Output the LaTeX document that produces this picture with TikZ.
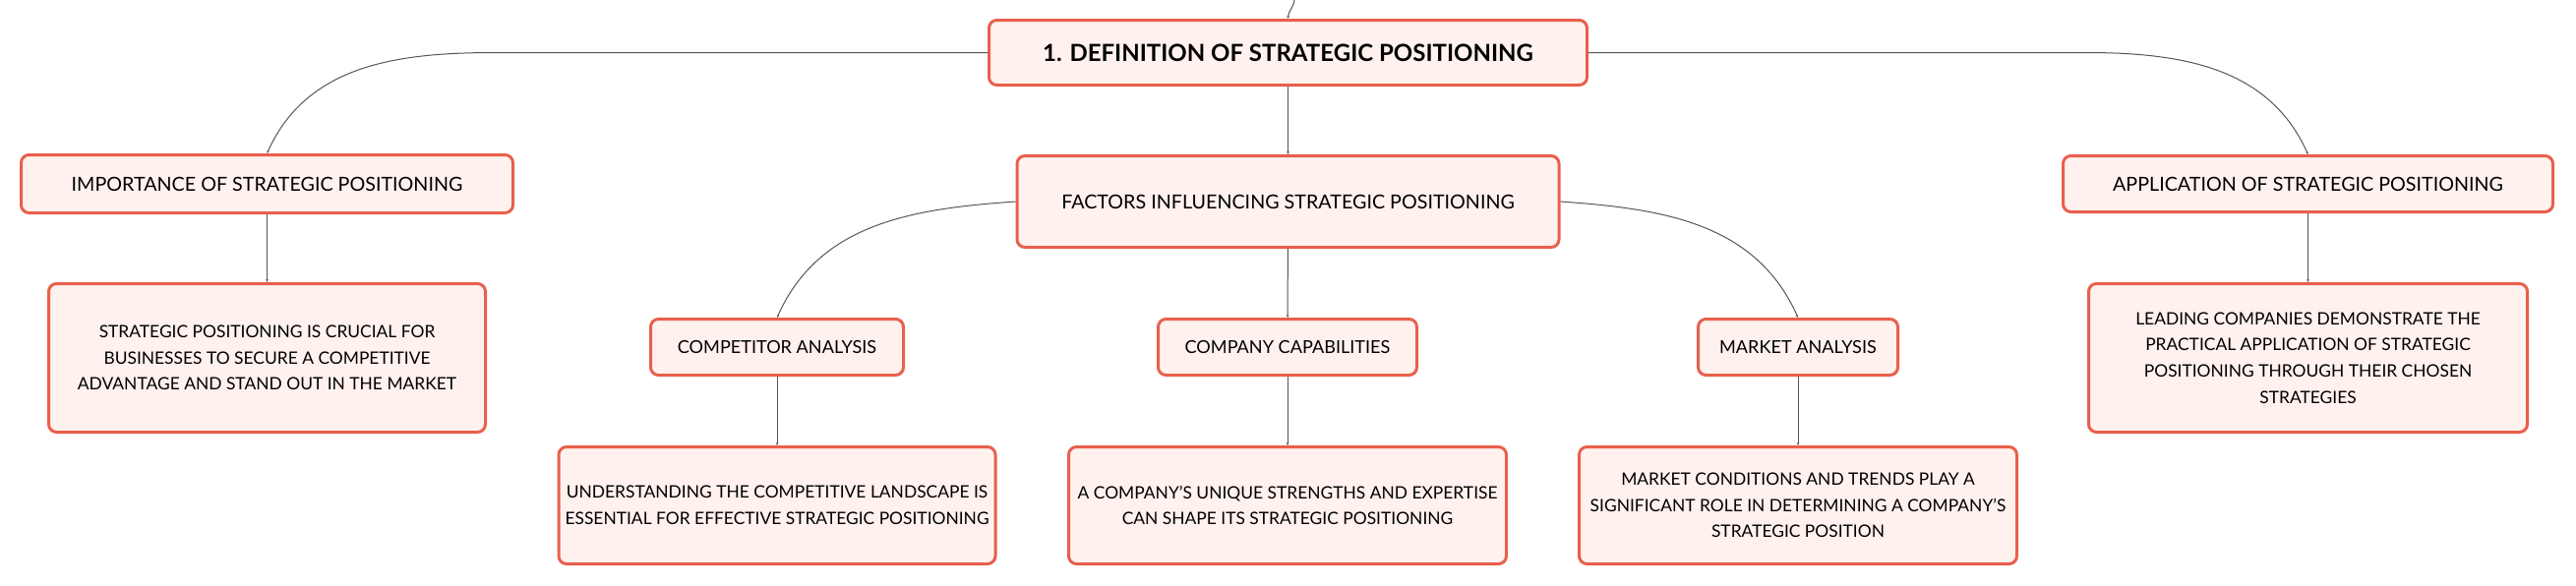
\documentclass[tikz,border=0pt]{standalone}
\usepackage{fontspec}
\setmainfont{Lato}
\usetikzlibrary{positioning,arrows.meta}
\definecolor{boxline}{HTML}{E8604C}
\definecolor{boxfill}{HTML}{FFF1EE}
\definecolor{linkgray}{HTML}{555555}
\tikzset{
  topic/.style={
    rectangle,
    rounded corners=8pt,
    minimum width=608pt,
    minimum height=66pt,
    align=center,
    draw=boxline,
    line width=3pt,
    fill=boxfill,
    font=\fontsize{24}{28}\selectfont\bfseries
    },
  branch/.style={
    rectangle,
    rounded corners=8pt,
    minimum width=500pt,
    minimum height=59pt,
    align=center,
    draw=boxline,
    line width=3pt,
    fill=boxfill,
    font=\fontsize{19.7}{24}\selectfont
    },
  subtopic/.style={
    rectangle,
    rounded corners=8pt,
    minimum height=57pt,
    align=center,
    draw=boxline,
    line width=3pt,
    fill=boxfill,
    font=\fontsize{18.1}{22}\selectfont
    },
  detail/.style={
    rectangle,
    rounded corners=8pt,
    minimum width=445pt,
    minimum height=119pt,
    align=center,
    draw=boxline,
    line width=3pt,
    fill=boxfill,
    font=\fontsize{17.4}{26.7}\selectfont
    },
  link/.style={draw=linkgray,line width=1pt,-{Stealth[length=3pt,width=2.5pt]}},
}
\begin{document}
\begin{tikzpicture}[
  x=1pt,y=1pt,
  node distance=69pt
  ]
\path[fill=white] (0,0) rectangle (2619,-595);
\useasboundingbox (0,0) rectangle (2619,-595);
\node (root) [topic] at (1309.5,-53.5) {1. DEFINITION OF STRATEGIC POSITIONING};
\node (factors) [branch,minimum width=551pt,minimum height=93pt,below=of root] {FACTORS INFLUENCING STRATEGIC POSITIONING};
\node (importance) [branch] at (271.5,-187) {IMPORTANCE OF STRATEGIC POSITIONING};
\node (application) [branch,minimum width=498pt,minimum height=57pt] at (2346.5,-187) {APPLICATION OF STRATEGIC POSITIONING};
\node (impdetail) [detail,minimum width=444pt,minimum height=151pt,below=of importance] {STRATEGIC POSITIONING IS CRUCIAL FOR \\ BUSINESSES TO SECURE A COMPETITIVE \\ ADVANTAGE AND STAND OUT IN THE MARKET};
\node (appdetail) [detail,minimum width=446pt,minimum height=151pt,below=70pt of application] {LEADING COMPANIES DEMONSTRATE THE \\ PRACTICAL APPLICATION OF STRATEGIC \\ POSITIONING THROUGH THEIR CHOSEN \\ STRATEGIES};
\node (competitor) [subtopic,minimum width=257pt] at (790,-353) {COMPETITOR ANALYSIS};
\node (capabilities) [subtopic,minimum width=263pt] at (1309,-353) {COMPANY CAPABILITIES};
\node (market) [subtopic,minimum width=203pt] at (1828,-353) {MARKET ANALYSIS};
\node (compdetail) [detail,minimum width=444pt,below=70pt of competitor] {UNDERSTANDING THE COMPETITIVE LANDSCAPE IS \\ ESSENTIAL FOR EFFECTIVE STRATEGIC POSITIONING};
\node (capdetail) [detail,below=70pt of capabilities] {A COMPANY'S UNIQUE STRENGTHS AND EXPERTISE \\ CAN SHAPE ITS STRATEGIC POSITIONING};
\node (mktdetail) [detail,below=70pt of market] {MARKET CONDITIONS AND TRENDS PLAY A \\ SIGNIFICANT ROLE IN DETERMINING A COMPANY'S \\ STRATEGIC POSITION};
\coordinate (parent) at (1316,0);
\draw[link] (parent) to[out=-96,in=88] (root.north);
\draw[link] (root.west) -- ++(-500,0) to[out=180,in=66] (importance.north);
\draw[link] (root.east) -- ++(505,0) to[out=0,in=114] (application.north);
\draw[link] (root.south) -- (factors.north);
\draw[link] (factors.west) to[out=184,in=66] (competitor.north);
\draw[link] (factors) -- (capabilities);
\draw[link] (factors.east) to[out=-4,in=114] (market.north);
\draw[link] (importance) -- (impdetail);
\draw[link] (application) -- (appdetail);
\draw[link] (competitor) -- (compdetail);
\draw[link] (capabilities) -- (capdetail);
\draw[link] (market) -- (mktdetail);
\end{tikzpicture}
\end{document}
